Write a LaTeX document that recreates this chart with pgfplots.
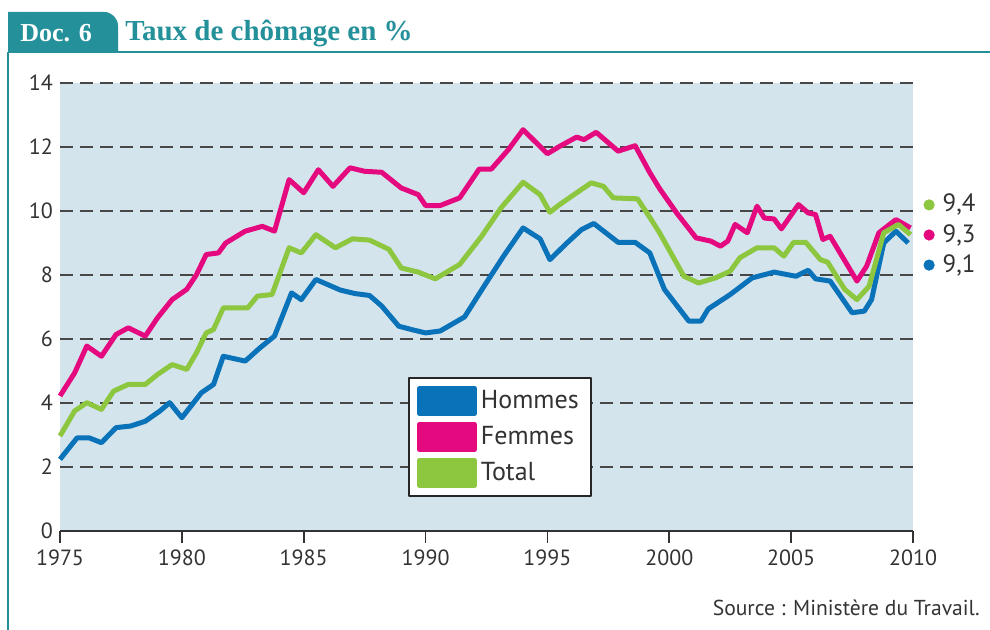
\documentclass[border=0pt]{standalone}
\usepackage{fontspec}
\setmainfont{PT Sans}
\newfontfamily\titlefont{Liberation Serif}
\usepackage{pgfplots}
\usepackage{pgfplotstable}
\pgfplotsset{compat=1.18}
\definecolor{hblue}{HTML}{0A72B8}
\definecolor{fpink}{HTML}{E5097F}
\definecolor{tgreen}{HTML}{8DC63F}
\definecolor{bgblue}{HTML}{D4E4ED}
\definecolor{tealc}{HTML}{24909A}
\definecolor{txt}{HTML}{333333}

\pgfplotstableread{
x y
1975.0 2.24
1975.7 2.91
1976.2 2.91
1976.7 2.76
1977.3 3.23
1977.9 3.28
1978.5 3.43
1979.1 3.75
1979.5 4.01
1980.0 3.54
1980.8 4.32
1981.3 4.58
1981.7 5.46
1982.6 5.31
1983.2 5.72
1983.8 6.09
1984.5 7.44
1984.9 7.23
1985.5 7.86
1986.5 7.53
1987.1 7.42
1987.7 7.36
1988.2 7.03
1988.9 6.40
1989.5 6.28
1990.0 6.19
1990.6 6.25
1991.6 6.69
1992.4 7.65
1993.2 8.59
1994.0 9.47
1994.7 9.13
1995.1 8.48
1995.8 9.00
1996.4 9.42
1996.9 9.61
1997.9 9.02
1998.6 9.02
1999.2 8.69
1999.8 7.55
2000.8 6.56
2001.3 6.56
2001.6 6.94
2002.5 7.39
2003.4 7.91
2004.3 8.09
2005.2 7.96
2005.7 8.15
2006.0 7.88
2006.6 7.81
2007.5 6.82
2008.0 6.87
2008.3 7.23
2008.8 9.00
2009.3 9.37
2009.8 9.00
}\hommes

\pgfplotstableread{
x y
1975.0 4.22
1975.6 4.94
1976.1 5.78
1976.7 5.46
1977.3 6.14
1977.8 6.35
1978.5 6.09
1979.0 6.66
1979.6 7.23
1980.2 7.55
1980.6 8.01
1981.0 8.64
1981.5 8.69
1981.8 9.00
1982.6 9.37
1983.3 9.52
1983.8 9.37
1984.4 10.98
1985.0 10.57
1985.6 11.29
1986.2 10.77
1986.9 11.35
1987.5 11.24
1988.2 11.21
1989.0 10.72
1989.7 10.51
1990.0 10.17
1990.6 10.17
1991.4 10.41
1992.2 11.31
1992.7 11.31
1993.4 11.92
1994.0 12.54
1995.0 11.79
1995.5 12.02
1996.2 12.31
1996.5 12.23
1997.0 12.46
1997.9 11.87
1998.6 12.04
1999.2 11.20
1999.6 10.70
2000.3 9.94
2001.1 9.16
2001.7 9.06
2002.1 8.90
2002.4 9.06
2002.7 9.58
2003.2 9.32
2003.6 10.15
2003.9 9.78
2004.3 9.75
2004.6 9.44
2005.3 10.20
2005.7 9.94
2006.0 9.89
2006.3 9.11
2006.6 9.21
2007.7 7.81
2008.1 8.28
2008.6 9.32
2009.3 9.73
2009.9 9.47
}\femmes

\pgfplotstableread{
x y
1975.0 2.97
1975.6 3.75
1976.1 4.01
1976.7 3.80
1977.2 4.37
1977.8 4.58
1978.5 4.58
1979.0 4.89
1979.6 5.20
1980.2 5.05
1980.6 5.57
1981.0 6.19
1981.3 6.30
1981.7 6.97
1982.7 6.97
1983.1 7.34
1983.7 7.39
1984.4 8.85
1984.9 8.69
1985.5 9.26
1986.3 8.85
1987.0 9.13
1987.7 9.09
1988.5 8.80
1989.0 8.22
1989.7 8.09
1990.4 7.88
1991.4 8.33
1992.3 9.21
1993.1 10.10
1994.0 10.90
1994.7 10.51
1995.1 9.96
1995.5 10.20
1996.2 10.57
1996.8 10.88
1997.3 10.77
1997.7 10.41
1998.7 10.38
1999.2 9.80
1999.6 9.32
2000.6 7.96
2001.2 7.75
2001.9 7.91
2002.5 8.12
2002.9 8.54
2003.6 8.85
2004.3 8.85
2004.7 8.59
2005.1 9.02
2005.6 9.02
2006.2 8.48
2006.5 8.40
2007.2 7.55
2007.7 7.23
2008.2 7.65
2008.8 9.32
2009.4 9.58
2009.9 9.26
}\total

\begin{document}
\begin{tikzpicture}
\path[use as bounding box] (0,0) rectangle (495pt,315pt);
% header
\fill[tealc] (4pt,289pt) -- (4pt,309pt) -- (52pt,309pt) arc[start angle=90,end angle=0,radius=7pt] -- (59pt,289pt) -- cycle;
\draw[tealc, line width=1.2pt] (4pt,289pt) -- (495pt,289pt);
\draw[tealc, line width=1pt] (4pt,289pt) -- (4pt,0pt);
\node[anchor=west, inner sep=0, text=white, font=\titlefont\bfseries\fontsize{13}{15}\selectfont] at (10pt,298.5pt) {Doc. 6};
\node[anchor=west, inner sep=0, text=tealc, font=\titlefont\bfseries\fontsize{14.5}{16}\selectfont] at (62.5pt,298.5pt) {Taux de chômage en \%};
\node[anchor=east, inner sep=0, text=txt, font=\fontsize{10.8}{12}\selectfont] at (490pt,11pt) {Source : Ministère du Travail.};

\begin{axis}[
  at={(30pt,49.5pt)}, anchor=south west,
  scale only axis, width=426.5pt, height=224pt,
  xmin=1975, xmax=2010, ymin=0, ymax=14,
  xtick={1975,1980,...,2010}, ytick={0,2,...,14},
  axis x line*=bottom, axis y line*=left,
  y axis line style={draw=none},
  x axis line style={draw=txt, line width=1pt},
  xtick align=outside, ytick align=inside,
  major tick length=6pt,
  xtick style={draw=txt, line width=0.9pt},
  ytick style={draw=none},
  ymajorgrids,
  major grid style={dash pattern=on 6.5pt off 3.5pt, line width=0.8pt, color=black!72},
  axis background/.style={fill=bgblue},
  /pgf/number format/assume math mode=true,
  ticklabel style={font=\fontsize{11}{13}\selectfont, text=txt},
  xticklabel style={/pgf/number format/1000 sep={}},
  clip=false,
  line join=round,
  legend style={at={(0.408,0.344)}, anchor=north west, draw=black!85, line width=0.9pt, fill=white,
    font=\fontsize{13}{15}\selectfont, text=txt, inner xsep=4pt, inner ysep=4pt, row sep=3pt,
    cells={anchor=west}},
  legend image code/.code={\fill[#1] (0pt,-6.25pt) rectangle (27.5pt,6.25pt);},
]
\addplot[hblue, line width=2.5pt, no marks] table {\hommes};
\addplot[fpink, line width=2.5pt, no marks] table {\femmes};
\addplot[tgreen, line width=2.5pt, no marks] table {\total};
\legend{Hommes, Femmes, Total}
\addplot[tgreen, only marks, mark=*, mark size=2.6pt, forget plot] coordinates {(2010.66,10.19)};
\addplot[fpink, only marks, mark=*, mark size=2.6pt, forget plot] coordinates {(2010.66,9.25)};
\addplot[hblue, only marks, mark=*, mark size=2.6pt, forget plot] coordinates {(2010.66,8.31)};
\node[anchor=west, inner sep=0, text=txt, font=\fontsize{12.5}{14}\selectfont] at (axis cs:2011.2,10.19) {9,4};
\node[anchor=west, inner sep=0, text=txt, font=\fontsize{12.5}{14}\selectfont] at (axis cs:2011.2,9.25) {9,3};
\node[anchor=west, inner sep=0, text=txt, font=\fontsize{12.5}{14}\selectfont] at (axis cs:2011.2,8.31) {9,1};
\end{axis}
\end{tikzpicture}
\end{document}
